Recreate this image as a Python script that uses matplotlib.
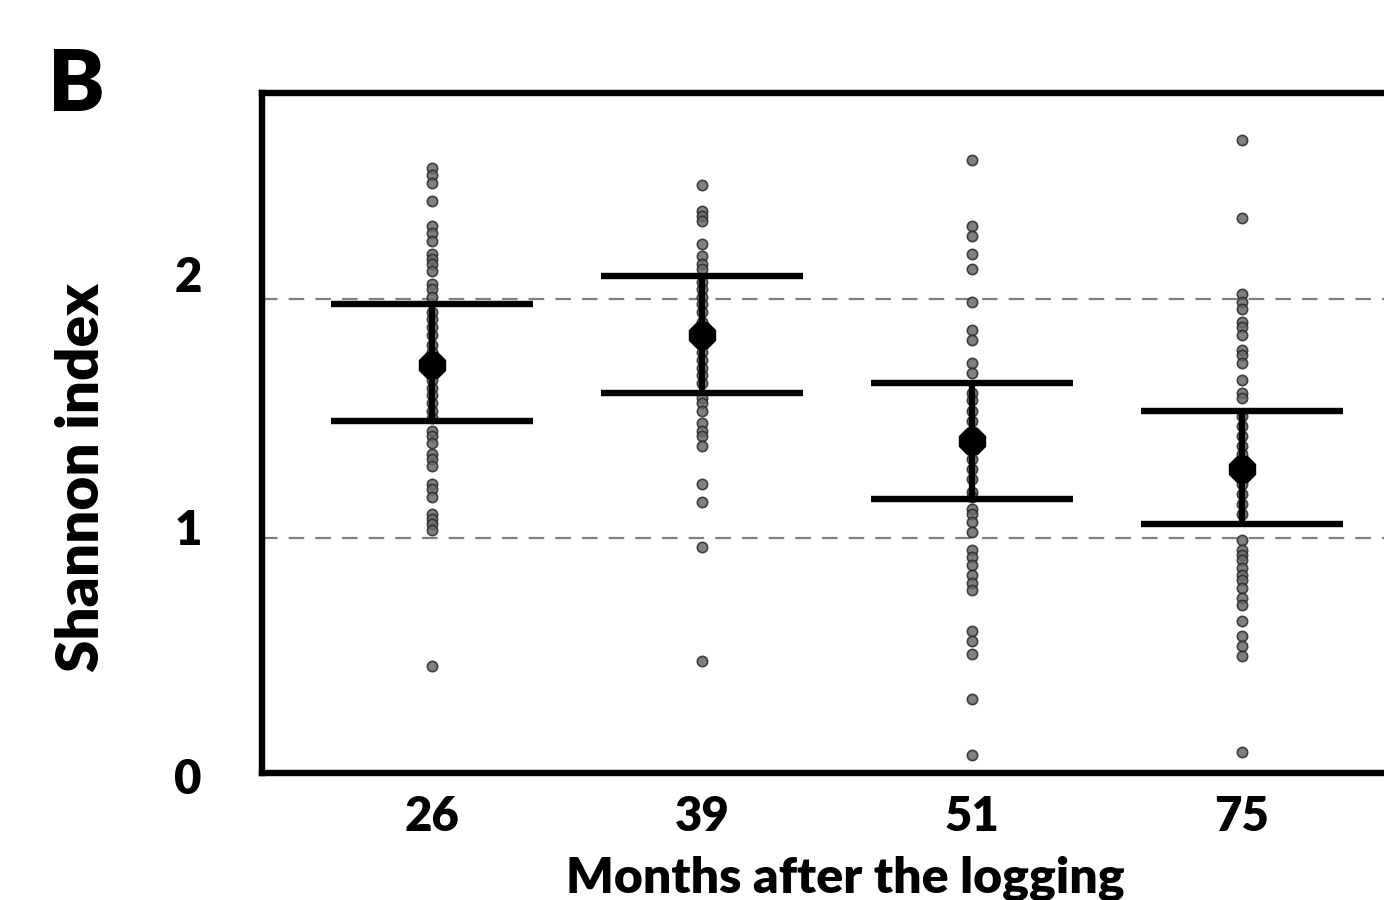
import matplotlib.pyplot as plt

# months after logging (categories)
months = ["26", "39", "51", "75"]

# individual Shannon index values per plot
pts_26 = [2.42, 2.39, 2.36, 2.29, 2.19, 2.16, 2.13, 2.08, 2.06, 2.04, 2.01, 1.96, 1.94, 1.91,
          1.85, 1.82, 1.79, 1.76, 1.72, 1.69, 1.61, 1.58, 1.55, 1.52, 1.49, 1.46, 1.43,
          1.38, 1.36, 1.33, 1.29, 1.27, 1.24, 1.17, 1.15, 1.12, 1.05, 1.03, 1.01, 0.99, 0.45]
pts_39 = [2.35, 2.25, 2.23, 2.21, 2.12, 2.07, 2.04, 2.02, 1.97, 1.94, 1.91, 1.88, 1.85, 1.81,
          1.72, 1.69, 1.66, 1.63, 1.60, 1.57, 1.51, 1.49, 1.46, 1.41, 1.38, 1.36, 1.32,
          1.17, 1.10, 0.92, 0.47]
pts_51 = [2.45, 2.19, 2.15, 2.08, 2.02, 1.89, 1.78, 1.74, 1.65, 1.61, 1.53, 1.50, 1.46, 1.42,
          1.38, 1.27, 1.23, 1.19, 1.14, 1.12, 1.07, 1.05, 1.02, 0.98, 0.91, 0.88, 0.85,
          0.81, 0.78, 0.75, 0.59, 0.55, 0.50, 0.32, 0.10]
pts_75 = [2.53, 2.22, 1.92, 1.89, 1.86, 1.81, 1.79, 1.76, 1.70, 1.68, 1.65, 1.58, 1.53, 1.51,
          1.44, 1.40, 1.36, 1.32, 1.29, 1.20, 1.17, 1.13, 1.09, 1.05, 0.95, 0.91, 0.89,
          0.87, 0.84, 0.81, 0.79, 0.76, 0.72, 0.69, 0.63, 0.57, 0.53, 0.49, 0.11]
points = [pts_26, pts_39, pts_51, pts_75]

# group means and interval bounds
means = [1.64, 1.76, 1.34, 1.23]
upper = [1.88, 1.99, 1.57, 1.46]
lower = [1.42, 1.53, 1.11, 1.01]

# dashed reference lines
ref_lines = [1.90, 0.955]

fig = plt.figure(figsize=(13.84, 9), dpi=100)
ax = fig.add_axes([0.1893, 0.1411, 0.820, 0.7556])

for y in ref_lines:
    ax.axhline(y, color="#808080", lw=1.6, ls=(0, (7, 5)), zorder=1)

for i, vals in enumerate(points):
    ax.scatter([i] * len(vals), vals, s=55, color="#6a6a6a", alpha=0.85,
               edgecolors="#2a2a2a", linewidths=1.2, zorder=2)
    ax.vlines(i, lower[i], upper[i], color="black", lw=4.5, zorder=3)
    ax.hlines([upper[i], lower[i]], i - 0.375, i + 0.375, color="black", lw=4.6, zorder=3)
    ax.plot(i, means[i], marker="8", ms=20, color="black", zorder=4)

ax.set_xlim(-0.63, 3.574)
ax.set_ylim(0.028, 2.715)

for s in ax.spines.values():
    s.set_linewidth(4.6)

tick_font = dict(fontfamily="Lato", fontweight="heavy", fontsize=34)
ax.set_xticks(range(len(months)))
ax.set_xticklabels(months, **tick_font)
ax.set_yticks([1, 2])
ax.set_yticklabels(["1", "2"], **tick_font)
ax.tick_params(axis="both", length=0)
ax.tick_params(axis="x", pad=16)
ax.tick_params(axis="y", pad=43)
ax.text(-0.0529, 0, "0", transform=ax.get_yaxis_transform(), ha="right", va="center",
        clip_on=False, **tick_font)

ax.set_xlabel("Months after the logging", fontfamily="Lato", fontweight="heavy", fontsize=36)
ax.xaxis.set_label_coords(0.514, -0.121)
ax.set_ylabel("Shannon index", fontfamily="Lato", fontweight="heavy", fontsize=42)
ax.yaxis.set_label_coords(-0.1357, 0.434)

fig.text(0.035, 0.877, "B", fontfamily="Lato", fontweight="heavy", fontsize=61)

fig.savefig("out.png", dpi=100)
